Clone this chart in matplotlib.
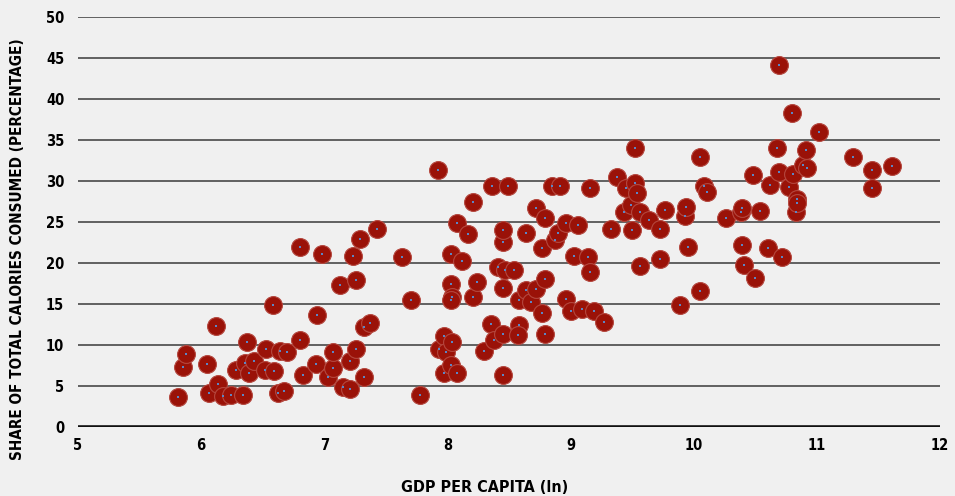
import matplotlib
matplotlib.use("Agg")
import matplotlib.pyplot as plt

# ln GDP per capita vs share of calories
gdp_ln = [
    5.81, 5.85, 5.88, 6.05, 6.06, 6.12, 6.14, 6.18, 6.24, 6.28,
    6.34, 6.37, 6.36, 6.39, 6.43, 6.52, 6.53, 6.58, 6.59, 6.62,
    6.64, 6.67, 6.70, 6.80, 6.83, 6.80, 6.94, 6.93, 6.98, 7.03,
    7.07, 7.07, 7.13, 7.15, 7.21, 7.21, 7.23, 7.26, 7.26, 7.29,
    7.32, 7.32, 7.37, 7.43, 7.63, 7.70, 7.78, 7.93, 7.92, 7.97,
    7.97, 7.99, 8.03, 8.03, 8.04, 8.03, 8.04, 8.03, 8.08, 8.08,
    8.12, 8.17, 8.21, 8.21, 8.24, 8.30, 8.35, 8.36, 8.38, 8.41,
    8.45, 8.45, 8.45, 8.45, 8.45, 8.49, 8.47, 8.54, 8.58, 8.58,
    8.57, 8.64, 8.64, 8.68, 8.72, 8.72, 8.77, 8.77, 8.79, 8.79,
    8.79, 8.85, 8.87, 8.90, 8.91, 8.96, 8.96, 9.00, 9.03, 9.06,
    9.09, 9.14, 9.16, 9.16, 9.19, 9.27, 9.33, 9.38, 9.43, 9.45,
    9.49, 9.50, 9.52, 9.52, 9.54, 9.56, 9.56, 9.64, 9.73, 9.73,
    9.77, 9.89, 9.93, 9.94, 9.95, 10.05, 10.05, 10.08, 10.11, 10.26,
    10.38, 10.39, 10.39, 10.41, 10.48, 10.50, 10.54, 10.60, 10.62, 10.68,
    10.69, 10.69, 10.72, 10.77, 10.80, 10.81, 10.83, 10.84, 10.84, 10.89,
    10.92, 10.91, 11.02, 11.29, 11.45, 11.45, 11.61,
]
calorie_share = [
    3.7, 7.3, 8.9, 7.7, 4.1, 12.3, 5.3, 3.8, 3.9, 7.0,
    3.9, 10.4, 7.8, 6.6, 8.0, 7.0, 9.5, 14.9, 6.8, 4.1,
    9.3, 4.4, 9.1, 10.6, 6.4, 22.0, 13.7, 7.7, 21.1, 6.1,
    7.2, 9.1, 17.3, 4.9, 8.0, 4.6, 20.9, 9.5, 17.9, 22.9,
    12.2, 6.1, 12.7, 24.2, 20.7, 15.5, 3.9, 9.5, 31.4, 11.1,
    6.6, 9.1, 21.1, 17.5, 15.9, 15.5, 10.4, 7.6, 6.6, 24.9,
    20.2, 23.5, 27.4, 15.8, 17.7, 9.3, 12.6, 29.4, 10.6, 19.5,
    11.3, 22.6, 6.3, 16.9, 24.0, 29.4, 19.2, 19.1, 12.4, 15.5,
    11.2, 16.7, 23.7, 15.3, 16.8, 26.7, 13.9, 21.8, 11.3, 25.5,
    18.0, 29.4, 22.8, 23.7, 29.4, 15.6, 24.9, 14.2, 20.9, 24.6,
    14.4, 20.7, 29.1, 18.9, 14.2, 12.8, 24.2, 30.5, 26.2, 29.1,
    27.1, 24.0, 34.0, 29.8, 28.6, 26.2, 19.6, 25.3, 24.2, 20.5,
    26.5, 14.9, 25.7, 26.8, 22.0, 32.9, 16.6, 29.4, 28.7, 25.5,
    26.2, 22.2, 26.7, 19.8, 30.7, 18.2, 26.4, 21.8, 29.5, 34.0,
    31.1, 44.1, 20.7, 29.3, 38.3, 30.9, 26.2, 27.8, 27.3, 32.0,
    31.6, 33.8, 36.0, 32.9, 31.3, 29.1, 31.8,
]

x_ticks = [5, 6, 7, 8, 9, 10, 11, 12]
y_ticks = [0, 5, 10, 15, 20, 25, 30, 35, 40, 45, 50]

plt.rcParams["font.family"] = ["DejaVu Sans"]
plt.rcParams["font.weight"] = "bold"
plt.rcParams["font.stretch"] = "condensed"

bg = "#f0f0f0"
fig = plt.figure(figsize=(9.55, 4.96), dpi=100, facecolor=bg)
ax = fig.add_axes([0.0817, 0.139, 0.9026, 0.8267], facecolor=bg)

for y in y_ticks[1:]:
    ax.axhline(y, color="#555555", lw=1.3, zorder=1)
ax.axhline(0, color="#111111", lw=2.6, zorder=1)

ax.scatter(gdp_ln, calorie_share, s=165, color="#9a1208",
           edgecolors="#b4473e", linewidths=0.8, zorder=3)
ax.scatter(gdp_ln, calorie_share, s=2, color="#5b86c6", marker="s",
           linewidths=0, zorder=4)

ax.set_xlim(5, 12)
ax.set_ylim(0, 50)
ax.set_xticks(x_ticks)
ax.set_yticks(y_ticks)
ax.tick_params(length=0, labelsize=10.5, pad=8)
ax.tick_params(axis="y", pad=10)
for s in ax.spines.values():
    s.set_visible(False)

ax.set_xlabel("GDP PER CAPITA (ln)", fontsize=11.5, fontweight="bold")
ax.set_ylabel("SHARE OF TOTAL CALORIES CONSUMED (PERCENTAGE)", fontsize=11,
              fontweight="bold")
ax.xaxis.set_label_coords(0.472, -0.128)
ax.yaxis.set_label_coords(-0.062, 0.434)

fig.savefig("out.png", dpi=100, facecolor=bg)
